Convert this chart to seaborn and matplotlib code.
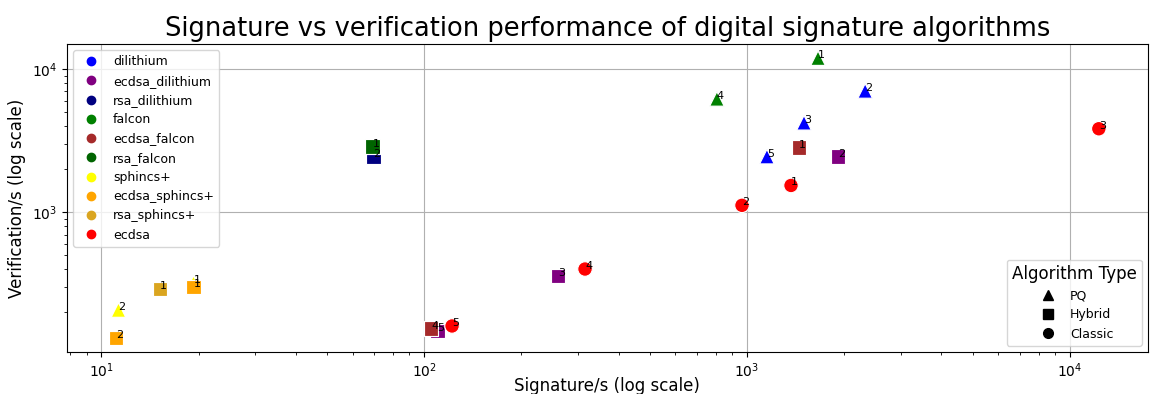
import pandas as pd
import seaborn as sns
import matplotlib
matplotlib.use("Agg")
import matplotlib.pyplot as plt
from matplotlib.lines import Line2D

# valeurs (ops/s)
algorithms = ["dilithium", "dilithium", "dilithium",
              "ecdsa_dilithium", "ecdsa_dilithium", "ecdsa_dilithium",
              "rsa_dilithium",
              "falcon", "falcon",
              "ecdsa_falcon", "ecdsa_falcon",
              "rsa_falcon",
              "sphincs+", "sphincs+",
              "ecdsa_sphincs+", "ecdsa_sphincs+",
              "rsa_sphincs+",
              "ecdsa", "ecdsa", "ecdsa", "ecdsa", "ecdsa"]
types = ["PQ", "PQ", "PQ",
         "Hybrid", "Hybrid", "Hybrid",
         "Hybrid",
         "PQ", "PQ",
         "Hybrid", "Hybrid",
         "Hybrid",
         "PQ", "PQ",
         "Hybrid", "Hybrid",
         "Hybrid",
         "Classic", "Classic", "Classic", "Classic", "Classic"]
levels = [2, 3, 5,
          2, 3, 5,
          2,
          1, 4,
          1, 4,
          1,
          1, 2,
          1, 2,
          1,
          1, 2, 3, 4, 5]
sign_per_s = [2323, 1502, 1153,
              1914, 260, 110,
              69.7,
              1660, 807,
              1449, 105,
              69.2,
              19.3, 11.3,
              19.3, 11.1,
              15.2,
              1369, 965, 12300, 315, 122]
verify_per_s = [7035, 4217, 2448,
                2448, 359, 149,
                2448,
                11920, 6190,
                2826, 154,
                2874,
                321, 208,
                301, 133,
                292,
                1540, 1119, 3831, 402, 161]

algo_order = ["dilithium", "ecdsa_dilithium", "rsa_dilithium", "falcon", "ecdsa_falcon",
              "rsa_falcon", "sphincs+", "ecdsa_sphincs+", "rsa_sphincs+", "ecdsa"]
algo_colors = ["blue", "purple", "navy", "green", "brown",
               "darkgreen", "yellow", "orange", "goldenrod", "red"]
type_order = ["PQ", "Hybrid", "Classic"]
type_markers = ["^", "s", "o"]

df = pd.DataFrame({"algo": algorithms, "type": types, "level": levels,
                   "sign": sign_per_s, "verify": verify_per_s})

fig, ax = plt.subplots(figsize=(11.52, 3.94), dpi=100)
plt.subplots_adjust(left=0.058, right=0.9965, top=0.888, bottom=0.107)

palette = dict(zip(algo_order, algo_colors))
markers = dict(zip(type_order, type_markers))

sns.scatterplot(data=df, x="sign", y="verify", hue="algo", style="type",
                hue_order=algo_order, style_order=type_order,
                palette=palette, markers=markers, s=110, legend=False, ax=ax)

# numéro de niveau à côté de chaque point
for _, r in df.iterrows():
    ax.text(r["sign"], r["verify"], str(r["level"]), fontsize=8)

ax.set_xscale("log")
ax.set_yscale("log")
ax.grid(True, which="major", color="#b0b0b0", linewidth=0.8)
ax.set_axisbelow(True)

ax.set_title("Signature vs verification performance of digital signature algorithms", fontsize=18.5)
ax.set_xlabel("Signature/s (log scale)", fontsize=12, labelpad=-2)
ax.set_ylabel("Verification/s (log scale)", fontsize=12)

h1 = [Line2D([0], [0], marker="o", linestyle="", color=c, markersize=6, label=a)
      for a, c in zip(algo_order, algo_colors)]
leg1 = ax.legend(handles=h1, loc="upper left", fontsize=9)
ax.add_artist(leg1)

h2 = [Line2D([0], [0], marker=m, linestyle="", color="black", markersize=7, label=t)
      for t, m in zip(type_order, type_markers)]
ax.legend(handles=h2, loc="lower right", title="Algorithm Type", fontsize=9, title_fontsize=12)

plt.savefig("out.png")
